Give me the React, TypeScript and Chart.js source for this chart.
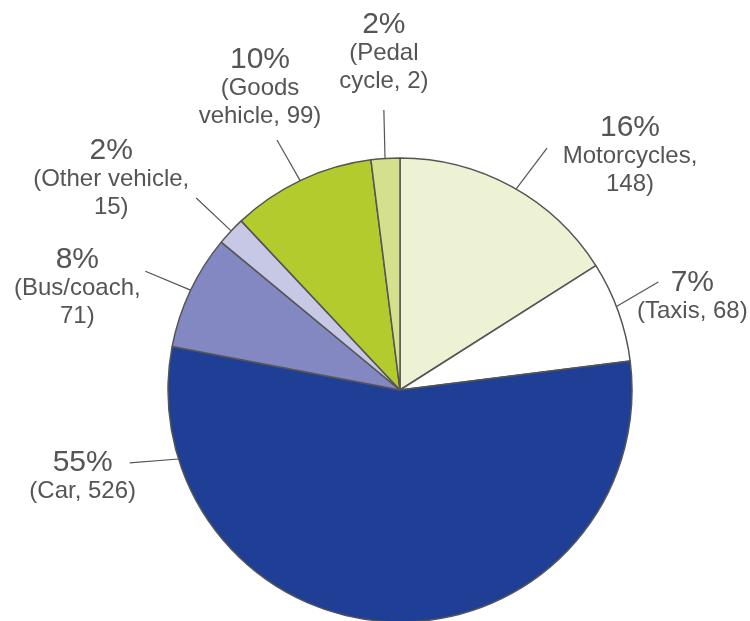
import React, { useEffect, useRef } from "react";
import { Chart, registerables } from "chart.js";

Chart.register(...registerables);

const categories = ["Motorcycles", "Taxis", "Car", "Bus/coach", "Other vehicle", "Goods vehicle", "Pedal cycle"];
const percents = [16, 7, 55, 8, 2, 10, 2];
const counts = [148, 68, 526, 71, 15, 99, 2];
const sliceColors = ["#eef2d5", "#ffffff", "#1f3f96", "#8387c2", "#c6c8e5", "#b4cb2d", "#d4e08b"];

// text lines of each label (as printed in the reference)
const labelLines: string[][] = [
  [`${percents[0]}%`, "Motorcycles,", `${counts[0]})`],
  [`${percents[1]}%`, `(Taxis, ${counts[1]})`],
  [`${percents[2]}%`, `(Car, ${counts[2]})`],
  [`${percents[3]}%`, "(Bus/coach,", `${counts[3]})`],
  [`${percents[4]}%`, "(Other vehicle,", `${counts[4]})`],
  [`${percents[5]}%`, "(Goods", `vehicle, ${counts[5]})`],
  [`${percents[6]}%`, "(Pedal", `cycle, ${counts[6]})`],
];

// leader layout: start/end angle (deg clockwise from top), end radius,
// text block offset from leader end (dx, dy of first line)
const labelLayout = [
  { a0: 30, a1: 31.3, r1: 283, dx: 83, dy: -20.5 },
  { a0: 68.9, a1: 67.3, r1: 280, dx: 34, dy: 0.5 },
  { a0: 252.7, a1: 254.9, r1: 280, dx: -47, dy: -0.5 },
  { a0: 295.5, a1: 295, r1: 281, dx: -68, dy: -11.5 },
  { a0: 313.3, a1: 313.3, r1: 280, dx: -85, dy: -47.5 },
  { a0: 334.5, a1: 333.8, r1: 278.6, dx: -17, dy: -80.5 },
  { a0: 356.3, a1: 356.7, r1: 280.5, dx: 0, dy: -85.5 },
];

const FONT = '"Liberation Sans", Arial, Helvetica, sans-serif';
const TEXT_COLOR = "#555555";

const labelPlugin = {
  id: "outerLabels",
  afterDatasetsDraw(chart: any) {
    const ctx = chart.ctx as CanvasRenderingContext2D;
    const meta = chart.getDatasetMeta(0);
    ctx.save();
    meta.data.forEach((arc: any, i: number) => {
      const { x, y, outerRadius } = arc.getProps(["x", "y", "outerRadius"], true);
      const lay = labelLayout[i];
      const toRad = (d: number) => (d * Math.PI) / 180 - Math.PI / 2;
      const a0 = toRad(lay.a0);
      const a1 = toRad(lay.a1);
      const x0 = x + outerRadius * Math.cos(a0);
      const y0 = y + outerRadius * Math.sin(a0);
      const x1 = x + lay.r1 * Math.cos(a1);
      const y1 = y + lay.r1 * Math.sin(a1);
      ctx.strokeStyle = "#555555";
      ctx.lineWidth = 1.2;
      ctx.beginPath();
      ctx.moveTo(x0, y0);
      ctx.lineTo(x1, y1);
      ctx.stroke();

      const tx = x1 + lay.dx;
      let ty = y1 + lay.dy;
      ctx.fillStyle = TEXT_COLOR;
      ctx.textAlign = "center";
      ctx.textBaseline = "middle";
      labelLines[i].forEach((line, j) => {
        if (j === 0) {
          ctx.font = `30px ${FONT}`;
        } else {
          ctx.font = `24px ${FONT}`;
          ty += j === 1 ? 29 : 28;
        }
        ctx.fillText(line, tx, ty);
      });
    });
    ctx.restore();
  },
};

export default function App() {
  const ref = useRef<HTMLCanvasElement | null>(null);
  useEffect(() => {
    if (!ref.current) return;
    const chart = new Chart(ref.current, {
      type: "pie",
      data: {
        labels: categories,
        datasets: [
          {
            data: percents,
            backgroundColor: sliceColors,
            borderColor: "#555555",
            borderWidth: 1.5,
            hoverOffset: 0,
            offset: 0,
          },
        ],
      },
      options: {
        animation: false,
        responsive: false,
        events: [],
        radius: 232,
        layout: { padding: { left: 168, right: 118, top: 158, bottom: 0 } },
        plugins: {
          legend: { display: false },
          tooltip: { enabled: false },
        },
      } as any,
      plugins: [labelPlugin],
    });
    return () => chart.destroy();
  }, []);
  return (
    <div
      style={{
        position: "fixed",
        left: 0,
        top: 0,
        width: 750,
        height: 621,
        overflow: "hidden",
        background: "#ffffff",
      }}
    >
      <canvas ref={ref} width={750} height={622} style={{ display: "block" }} />
    </div>
  );
}
